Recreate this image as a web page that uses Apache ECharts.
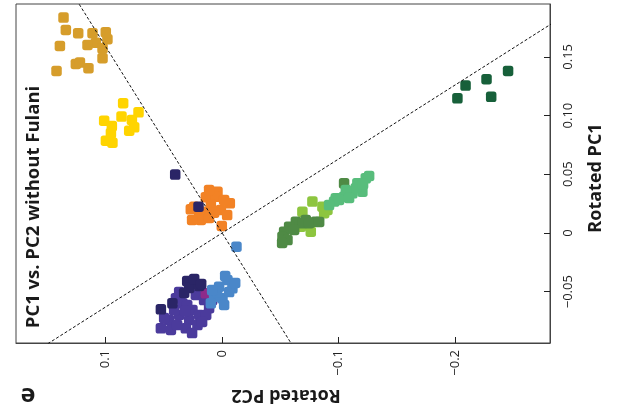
<!DOCTYPE html>
<html>
<head>
<meta charset="utf-8">
<script src="https://cdn.jsdelivr.net/npm/echarts@6/dist/echarts.min.js"></script>
<style>
html,body{margin:0;padding:0;background:#fff;}
#chart{width:619px;height:414px;}
</style>
</head>
<body>
<div id="chart"></div>
<script>
// ---- Data (x = Rotated PC2, y = Rotated PC1) ----
const gold = [[0.1362,0.1834],[0.1342,0.1729],[0.1236,0.1701],[0.1113,0.1701],[0.0999,0.1710],[0.0985,0.1650],[0.1084,0.1621],[0.1156,0.1601],[0.1027,0.1573],[0.1393,0.1593],[0.1027,0.1488],[0.1256,0.1440],[0.1221,0.1451],[0.1148,0.1403],[0.1422,0.1380]];
const yellow = [[0.0850,0.1105],[0.0864,0.0991],[0.1013,0.0956],[0.0718,0.1028],[0.0775,0.0963],[0.0755,0.0900],[0.0798,0.0871],[0.0947,0.0911],[0.0955,0.0849],[0.0998,0.0786],[0.0942,0.0769]];
const orange = [[0.0040,0.0352],[0.0140,0.0304],[0.0054,0.0309],[-0.0066,0.0253],[0.0240,0.0224],[0.0269,0.0202],[0.0097,0.0239],[0.0011,0.0196],[0.0155,0.0181],[0.0069,0.0173],[0.0183,0.0111],[0.0003,0.0060],[0.0112,0.0366],[-0.0017,0.0281],[0.0197,0.0153],[0.0112,0.0128],[0.0258,0.0111],[-0.0043,0.0153]];
const purple = [[0.0397,-0.0556],[0.0341,-0.0599],[0.0226,-0.0528],[0.0155,-0.0571],[0.0255,-0.0656],[0.0112,-0.0641],[0.0369,-0.0698],[0.0455,-0.0741],[0.0283,-0.0741],[0.0212,-0.0784],[0.0440,-0.0826],[0.0526,-0.0812],[0.0312,-0.0812],[0.0412,-0.0656],[0.0197,-0.0698],[0.0300,-0.0613],[0.0369,-0.0503],[0.0137,-0.0698],[0.0086,-0.0571],[0.0498,-0.0724],[0.0386,-0.0784],[0.0258,-0.0852],[0.0172,-0.0758],[0.0318,-0.0664]];
const magenta = [[0.0140,-0.0514]];
const navy = [[0.0403,0.0497],[0.0203,0.0224],[0.0255,-0.0428],[0.0300,-0.0409],[0.0283,-0.0468],[0.0326,-0.0511],[0.0427,-0.0599],[0.0526,-0.0650],[0.0197,-0.0451],[0.0240,-0.0392],[0.0180,-0.0434]];
const blue = [[-0.0123,-0.0117],[-0.0045,-0.0400],[0.0026,-0.0457],[-0.0088,-0.0471],[0.0069,-0.0543],[-0.0003,-0.0556],[0.0097,-0.0599],[-0.0060,-0.0503],[0.0043,-0.0503],[-0.0112,-0.0426],[-0.0026,-0.0366],[0.0086,-0.0486],[-0.0017,-0.0613]];
const seafoam = [[-0.1233,0.0466],[-0.1161,0.0423],[-0.1204,0.0352],[-0.1118,0.0338],[-0.1047,0.0309],[-0.0976,0.0296],[-0.0961,0.0267],[-0.1148,0.0381],[-0.1062,0.0366],[-0.1004,0.0281],[-0.1262,0.0486],[-0.1090,0.0298],[-0.0918,0.0238],[-0.1210,0.0417]];
const midgreen = [[-0.1047,0.0423],[-0.0804,0.0096],[-0.0718,0.0111],[-0.0633,0.0096],[-0.0575,0.0054],[-0.0532,0.0011],[-0.0518,-0.0032],[-0.0561,-0.0060],[-0.0689,0.0083],[-0.0747,0.0083],[-0.0515,-0.0085],[-0.0618,0.0026],[-0.0833,0.0094]];
const lightgreen = [[-0.0775,0.0267],[-0.0861,0.0224],[-0.0904,0.0196],[-0.0876,0.0168],[-0.0689,0.0181],[-0.0676,0.0054],[-0.0761,0.0011]];
const darkgreen = [[-0.202,0.1147],[-0.209,0.1255],[-0.227,0.131],[-0.231,0.116],[-0.2455,0.138]];

const xTicks = [-0.2, -0.1, 0, 0.1];
const xTickLabels = ['\u22120.2', '\u22120.1', '0', '0.1'];
const yTicks = [-0.05, 0, 0.05, 0.10, 0.15];
const yTickLabels = ['\u22120.05', '0', '0.05', '0.10', '0.15'];
const guideSlopes = [-0.63, 1.587];   // dashed lines through the origin

const titleText = 'PC1 vs. PC2 without Fulani';
const xName = 'Rotated PC2';
const yName = 'Rotated PC1';
const panelLetter = 'e';

// ---- Styling ----
const colors = {
  gold:'#D69D2B', yellow:'#FFD400', orange:'#F28225', purple:'#4B3B9C', magenta:'#8E2B8A',
  navy:'#2A2566', blue:'#4A87C9', seafoam:'#58BD7C', midgreen:'#4F8A45', lightgreen:'#8DC53F', darkgreen:'#17603A'
};
const groups = {gold, yellow, orange, purple, magenta, navy, blue, seafoam, midgreen, lightgreen, darkgreen};
const drawOrder = ['gold','yellow','orange','purple','magenta','navy','blue','lightgreen','midgreen','seafoam','darkgreen'];

const xMin = -0.2815, xMax = 0.177, yMin = -0.0937, yMax = 0.195;

const series = drawOrder.map(k => ({
  type: 'scatter', name: k, data: groups[k],
  symbol: 'roundRect', symbolSize: 10.5,
  itemStyle: { color: colors[k], opacity: 1 },
  z: 3, silent: true
}));
guideSlopes.forEach(s => {
  series.push({
    type: 'line', data: [[xMin - 0.1, s * (xMin - 0.1)], [xMax + 0.1, s * (xMax + 0.1)]],
    symbol: 'none', clip: true, silent: true, z: 4,
    lineStyle: { color: '#111', width: 1, type: [3, 2] }
  });
});

const fontFam = '"Open Sans", "DejaVu Sans", sans-serif';
const chart = echarts.init(document.getElementById('chart'), null, { renderer: 'canvas' });
chart.setOption({
  animation: false,
  backgroundColor: '#fff',
  grid: { left: 16, right: 69, top: 4, bottom: 71, show: true, borderColor: '#444', borderWidth: 1, backgroundColor: 'transparent' },
  xAxis: {
    type: 'value', inverse: true, min: xMin, max: xMax,
    splitLine: { show: false },
    axisLine: { show: true, onZero: false, lineStyle: { color: '#444' } },
    axisTick: { show: true, inside: true, length: 6, customValues: xTicks, lineStyle: { color: '#222' } },
    axisLabel: {
      show: true, customValues: xTicks, rotate: 90, margin: 7, color: '#222', fontSize: 13, fontFamily: fontFam,
      formatter: v => { const i = xTicks.findIndex(t => Math.abs(t - v) < 1e-9); return i >= 0 ? xTickLabels[i] : ''; }
    }
  },
  yAxis: {
    type: 'value', position: 'right', min: yMin, max: yMax,
    splitLine: { show: false },
    axisLine: { show: true, onZero: false, lineStyle: { color: '#444' } },
    axisTick: { show: true, inside: true, length: 6, customValues: yTicks, lineStyle: { color: '#222' } },
    axisLabel: {
      show: true, customValues: yTicks, rotate: 90, margin: 12, color: '#222', fontSize: 13, fontFamily: fontFam,
      formatter: v => { const i = yTicks.findIndex(t => Math.abs(t - v) < 1e-9); return i >= 0 ? yTickLabels[i] : ''; }
    }
  },
  graphic: [
    { type: 'text', x: 34, y: 207, rotation: Math.PI / 2,
      style: { text: titleText, fontSize: 18.5, fontWeight: 'bold', fontFamily: fontFam, fill: '#1a1a1a', align: 'center', verticalAlign: 'middle' } },
    { type: 'text', x: 596, y: 178, rotation: Math.PI / 2,
      style: { text: yName, fontSize: 18, fontWeight: 'bold', fontFamily: fontFam, fill: '#1a1a1a', align: 'center', verticalAlign: 'middle' } },
    { type: 'text', x: 286, y: 395, rotation: Math.PI,
      style: { text: xName, fontSize: 18, fontWeight: 'bold', fontFamily: fontFam, fill: '#1a1a1a', align: 'center', verticalAlign: 'middle' } },
    { type: 'text', x: 28, y: 395, rotation: Math.PI,
      style: { text: panelLetter, fontSize: 25, fontWeight: 'bold', fontFamily: fontFam, fill: '#1a1a1a', align: 'center', verticalAlign: 'middle' } }
  ],
  series: series
});
</script>
</body>
</html>
